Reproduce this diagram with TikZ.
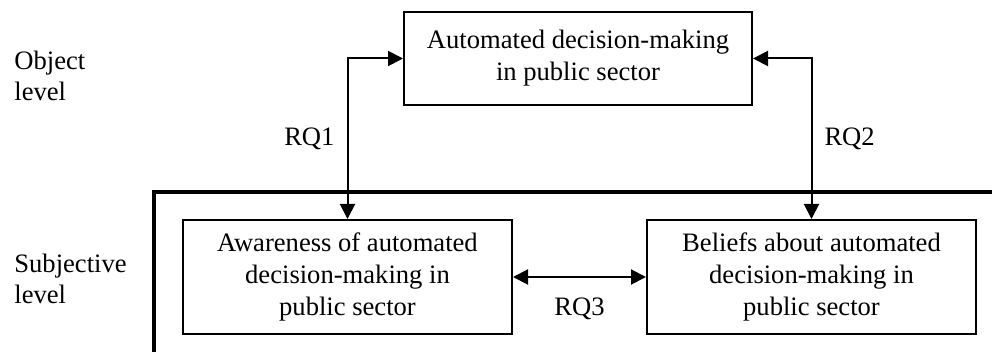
\documentclass[tikz,border=0pt]{standalone}
\usepackage{fontspec}
\setmainfont{Liberation Serif}
\usetikzlibrary{arrows.meta}

\begin{document}
\begin{tikzpicture}[x=0.5pt,y=-0.5pt,
    box/.style={draw,line width=1pt,align=center,inner sep=0pt,
      font=\fontsize{13.3}{16}\selectfont},
    lvl/.style={anchor=west,align=left,inner sep=0pt,
      font=\fontsize{13.3}{15.5}\selectfont},
    rq/.style={font=\fontsize{13.3}{16}\selectfont,inner sep=0pt},
    link/.style={line width=1pt,{Triangle[length=7.5pt,width=7.5pt]}-{Triangle[length=7.5pt,width=7.5pt]}}]
    \useasboundingbox (0,0) rectangle (992,352);

    % levels
    \node[lvl] (objlvl) at (14,76) {Object\\level};
    \node[lvl] (subjlvl) at (14,279) {Subjective\\level};

    % subjective frame
    \draw[line width=2pt] (154,352) |- (992,192);

    % boxes
    \node[box,minimum width=174pt,minimum height=46.5pt] (adm) at (578,58.5)
        {Automated decision-making\\in public sector};
    \node[box,minimum width=164.5pt,minimum height=57pt] (aware) at (347.5,277)
        {Awareness of automated\\decision-making in\\public sector};
    \node[box,minimum width=164.5pt,minimum height=57pt] (belief) at (811.5,277)
        {Beliefs about automated\\decision-making in\\public sector};

    % research questions
    \draw[link] (aware.north) |- node[rq,left=6pt,pos=0.25] (rq1) {RQ1} (adm.west);
    \draw[link] (belief.north) |- node[rq,right=6pt,pos=0.25] (rq2) {RQ2} (adm.east);
    \draw[link] (aware.east) -- node[rq,below=10pt] (rq3) {RQ3} (belief.west);
\end{tikzpicture}
\end{document}
